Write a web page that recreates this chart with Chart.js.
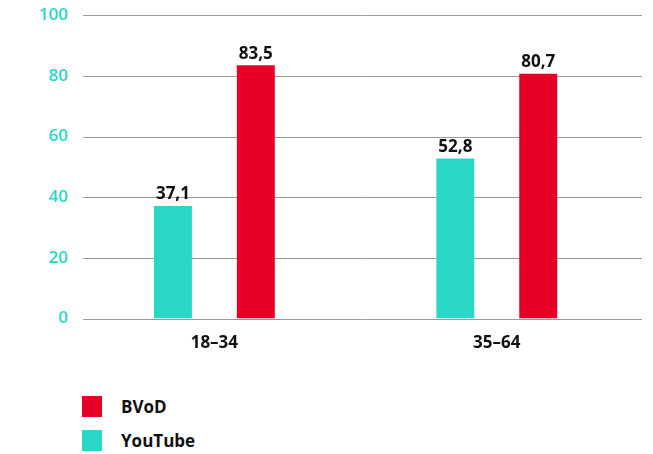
<!DOCTYPE html>
<html>
<head>
<meta charset="utf-8">
<script src="https://cdn.jsdelivr.net/npm/chart.js@4"></script>
<style>
  html, body { margin: 0; padding: 0; background: #fff; }
  body { width: 653px; height: 454px; position: relative; overflow: hidden; font-family: "Open Sans", sans-serif; }
  #wrap { position: absolute; left: 0; top: 0; width: 653px; height: 367px; }
  .legend { position: absolute; left: 82px; font-weight: 700; font-size: 17px; color: #111; }
  .legend .row { display: flex; align-items: center; height: 21px; margin-bottom: 13px; }
  .legend .sw { width: 20px; height: 21px; margin-right: 19px; }
</style>
</head>
<body>
<div id="wrap"><canvas id="chart"></canvas></div>
<div class="legend" style="top:396px">
  <div class="row"><div class="sw" style="background:#e60026"></div>BVoD</div>
  <div class="row"><div class="sw" style="background:#2ad6c5"></div>YouTube</div>
</div>
<script>
const categories = ['18–34', '35–64']
const youtube = [37.1, 52.8]
const bvod = [83.5, 80.7]
const yTicks = [0, 20, 40, 60, 80, 100]

const teal = '#2ad6c5'
const red = '#e60026'

// horizontal rules, drawn a little to the right of the plot area like the original
const rules = {
    id: 'rules',
    beforeDatasetsDraw(chart) {
        const {ctx, chartArea, scales: {y}} = chart
        ctx.save()
        ctx.strokeStyle = '#9a9a9a'
        ctx.lineWidth = 1
        y.ticks.forEach(t => {
            const py = Math.round(y.getPixelForValue(t.value)) + 0.5
            ctx.beginPath()
            ctx.moveTo(chartArea.left + 10, py)
            ctx.lineTo(chartArea.right + 4, py)
            ctx.stroke()
        })
        ctx.restore()
    }
}

// value labels above each bar, comma decimals
const barLabels = {
    id: 'barLabels',
    afterDatasetsDraw(chart) {
        const ctx = chart.ctx
        ctx.save()
        ctx.font = '700 17px "Open Sans", sans-serif'
        ctx.fillStyle = '#111'
        ctx.textAlign = 'center'
        ctx.textBaseline = 'bottom'
        chart.data.datasets.forEach((ds, i) => {
            chart.getDatasetMeta(i).data.forEach((bar, j) => {
                ctx.fillText(String(ds.data[j]).replace('.', ','), bar.x, bar.y - 3)
            })
        })
        ctx.restore()
    }
}

new Chart(document.getElementById('chart'), {
    type: 'bar',
    data: {
        labels: categories,
        datasets: [
            { label: 'YouTube', data: youtube, backgroundColor: teal },
            { label: 'BVoD', data: bvod, backgroundColor: red }
        ]
    },
    options: {
        responsive: true,
        maintainAspectRatio: false,
        animation: false,
        categoryPercentage: 0.587,
        barPercentage: 0.458,
        layout: { padding: { top: 6, right: 15, left: 34, bottom: 0 } },
        plugins: {
            legend: { display: false },
            tooltip: { enabled: false }
        },
        scales: {
            x: {
                grid: { display: false, drawTicks: false },
                border: { display: false },
                ticks: {
                    color: '#111',
                    padding: 14,
                    font: { family: '"Open Sans", sans-serif', size: 17, weight: 700 }
                }
            },
            y: {
                min: 0,
                max: 100,
                afterBuildTicks: axis => { axis.ticks = yTicks.map(v => ({ value: v })) },
                grid: { display: false, drawTicks: false },
                border: { display: false },
                ticks: {
                    color: '#2ad6c5',
                    padding: 5,
                    font: { family: '"Open Sans", sans-serif', size: 17, weight: 600 }
                }
            }
        }
    },
    plugins: [rules, barLabels]
})
</script>
</body>
</html>
